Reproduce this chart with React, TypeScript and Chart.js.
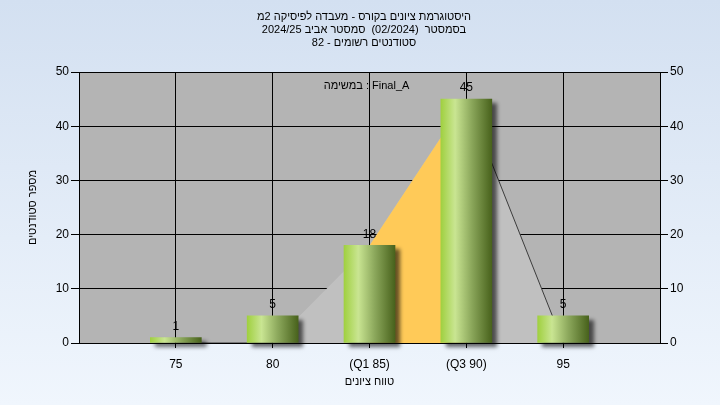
import React, { useEffect, useRef } from 'react';
import { Chart, registerables } from 'chart.js';

Chart.register(...registerables);

const titleLines = [
  'היסטוגרמת ציונים בקורס - מעבדה לפיסיקה 2מ',
  'בסמסטר  (02/2024)  סמסטר אביב 2024/25',
  'סטודנטים רשומים - 82',
];
const annotationText = 'במשימה : Final_A';
const xAxisTitle = 'טווח ציונים';
const yAxisTitle = 'מספר סטודנטים';

const scores = [75, 80, 85, 90, 95];
const tickLabels = ['75', '80', '(Q1 85)', '(Q3 90)', '95'];
const counts = [1, 5, 18, 45, 5];

const polygonX = [75, 80, 85, 90, 95];
const polygonY = [0, 0, 18, 45, 0];
const q1 = 85;
const q3 = 90;

const xMin = 70;
const xMax = 100;
const yMax = 50;
const yStep = 10;

const FONT = 'Liberation Sans, Arial, sans-serif';

export default function App() {
  const ref = useRef<HTMLCanvasElement | null>(null);

  useEffect(() => {
    const canvas = ref.current;
    if (!canvas) return;

    const plotBg = {
      id: 'plotBg',
      beforeDraw(chart: any) {
        const { ctx, chartArea: a } = chart;
        ctx.save();
        ctx.fillStyle = '#b4b4b4';
        ctx.fillRect(a.left, a.top, a.right - a.left, a.bottom - a.top);
        ctx.restore();
      },
    };

    const barShadow = {
      id: 'barShadow',
      beforeDatasetDraw(chart: any, args: any) {
        if (chart.data.datasets[args.index].type !== 'bar') return;
        const c = chart.ctx;
        c.save();
        c.shadowColor = 'rgba(0,0,0,0.6)';
        c.shadowBlur = 4;
        c.shadowOffsetX = 5;
        c.shadowOffsetY = 4;
      },
      afterDatasetDraw(chart: any, args: any) {
        if (chart.data.datasets[args.index].type !== 'bar') return;
        chart.ctx.restore();
      },
    };

    const texts = {
      id: 'texts',
      afterDraw(chart: any) {
        const { ctx, chartArea: a } = chart;
        ctx.save();
        ctx.fillStyle = '#000';
        ctx.textAlign = 'center';
        ctx.textBaseline = 'middle';
        ctx.font = `11px ${FONT}`;
        titleLines.forEach((t, i) => ctx.fillText(t, 364, 17 + i * 13));
        const cx = (a.left + a.right) / 2;
        ctx.fillText(annotationText, cx - 3, a.top + 14);
        ctx.fillText(xAxisTitle, cx, 382);
        ctx.save();
        ctx.translate(33, (a.top + a.bottom) / 2);
        ctx.rotate(-Math.PI / 2);
        ctx.fillText(yAxisTitle, 0, 0);
        ctx.restore();
        // bar value labels
        const meta = chart.getDatasetMeta(0);
        ctx.font = `12px ${FONT}`;
        meta.data.forEach((el: any, i: number) => {
          ctx.fillText(String(counts[i]), el.x, el.y - 11);
        });
        ctx.restore();
      },
    };

    const barFill = (c: any) => {
      const chart = c.chart;
      const xs = chart.scales && chart.scales.x;
      if (!xs || c.dataIndex == null || xs.getPixelForValue == null) return '#8fbf40';
      const px = xs.getPixelForValue(scores[c.dataIndex]);
      if (!isFinite(px)) return '#8fbf40';
      const g = chart.ctx.createLinearGradient(px - 25.5, 0, px + 25.5, 0);
      g.addColorStop(0, '#a0d040');
      g.addColorStop(0.28, '#c9e592');
      g.addColorStop(0.6, '#8ca85c');
      g.addColorStop(1, '#48621c');
      return g;
    };

    const iqrX = polygonX.filter((x) => x >= q1 && x <= q3);
    const iqrY = polygonY.filter((_, i) => polygonX[i] >= q1 && polygonX[i] <= q3);

    const chart = new Chart(canvas, {
      type: 'bar',
      data: {
        datasets: [
          {
            type: 'bar',
            data: scores.map((x, i) => ({ x, y: counts[i] })),
            backgroundColor: barFill,
            borderWidth: 0,
            barThickness: 51,
            order: 0,
            clip: false,
          } as any,
          {
            type: 'line',
            data: iqrX.map((x, i) => ({ x, y: iqrY[i] })),
            backgroundColor: '#ffca58',
            borderWidth: 0,
            borderColor: 'rgba(0,0,0,0)',
            pointRadius: 0,
            fill: 'origin',
            tension: 0,
            order: 1,
          } as any,
          {
            type: 'line',
            data: polygonX.map((x, i) => ({ x, y: polygonY[i] })),
            backgroundColor: '#c0c0c0',
            borderWidth: 1,
            borderColor: '#3c3c3c',
            segment: {
              borderColor: (s: any) =>
                s.p1.parsed.y <= s.p0.parsed.y ? '#3c3c3c' : 'rgba(0,0,0,0)',
            },
            pointRadius: 0,
            fill: 'origin',
            tension: 0,
            order: 2,
          } as any,
        ],
      },
      options: {
        responsive: false,
        animation: false,
        devicePixelRatio: 1,
        events: [],
        layout: { padding: { top: 72, left: 0, right: 0, bottom: 0 } },
        plugins: {
          legend: { display: false },
          tooltip: { enabled: false },
          title: { display: false },
        },
        scales: {
          x: {
            type: 'linear',
            min: xMin,
            max: xMax,
            offset: false,
            afterBuildTicks: (s: any) => {
              s.ticks = scores.map((v) => ({ value: v }));
            },
            afterFit: (s: any) => {
              s.height = 62;
            },
            ticks: {
              color: '#000',
              font: { family: FONT, size: 12 },
              padding: 9,
              maxRotation: 0,
              autoSkip: false,
              callback: (v: any) => {
                const i = scores.indexOf(Number(v));
                return i >= 0 ? tickLabels[i] : '';
              },
            },
            grid: { color: '#000', lineWidth: 1, tickLength: 5, drawOnChartArea: true, offset: false },
            border: { display: true, color: '#000', width: 1 },
          },
          y: {
            type: 'linear',
            position: 'left',
            min: 0,
            max: yMax,
            afterFit: (s: any) => {
              s.width = 79;
            },
            ticks: {
              stepSize: yStep,
              color: '#000',
              font: { family: FONT, size: 12 },
              padding: 2,
            },
            grid: { color: '#000', lineWidth: 1, tickLength: 8 },
            border: { display: true, color: '#000', width: 1 },
          },
          y2: {
            type: 'linear',
            position: 'right',
            min: 0,
            max: yMax,
            afterFit: (s: any) => {
              s.width = 60;
            },
            ticks: {
              stepSize: yStep,
              color: '#000',
              font: { family: FONT, size: 12 },
              padding: 2,
            },
            grid: { color: '#000', lineWidth: 1, tickLength: 8, drawOnChartArea: false },
            border: { display: true, color: '#000', width: 1 },
          },
        },
      } as any,
      plugins: [plotBg, barShadow, texts],
    });

    return () => chart.destroy();
  }, []);

  return (
    <div
      style={{
        position: 'fixed',
        left: 0,
        top: 0,
        width: 720,
        height: 405,
        background: 'linear-gradient(#d3e0f1, #f0f6fd)',
      }}
    >
      <canvas ref={ref} width={720} height={405} style={{ display: 'block' }} />
    </div>
  );
}
